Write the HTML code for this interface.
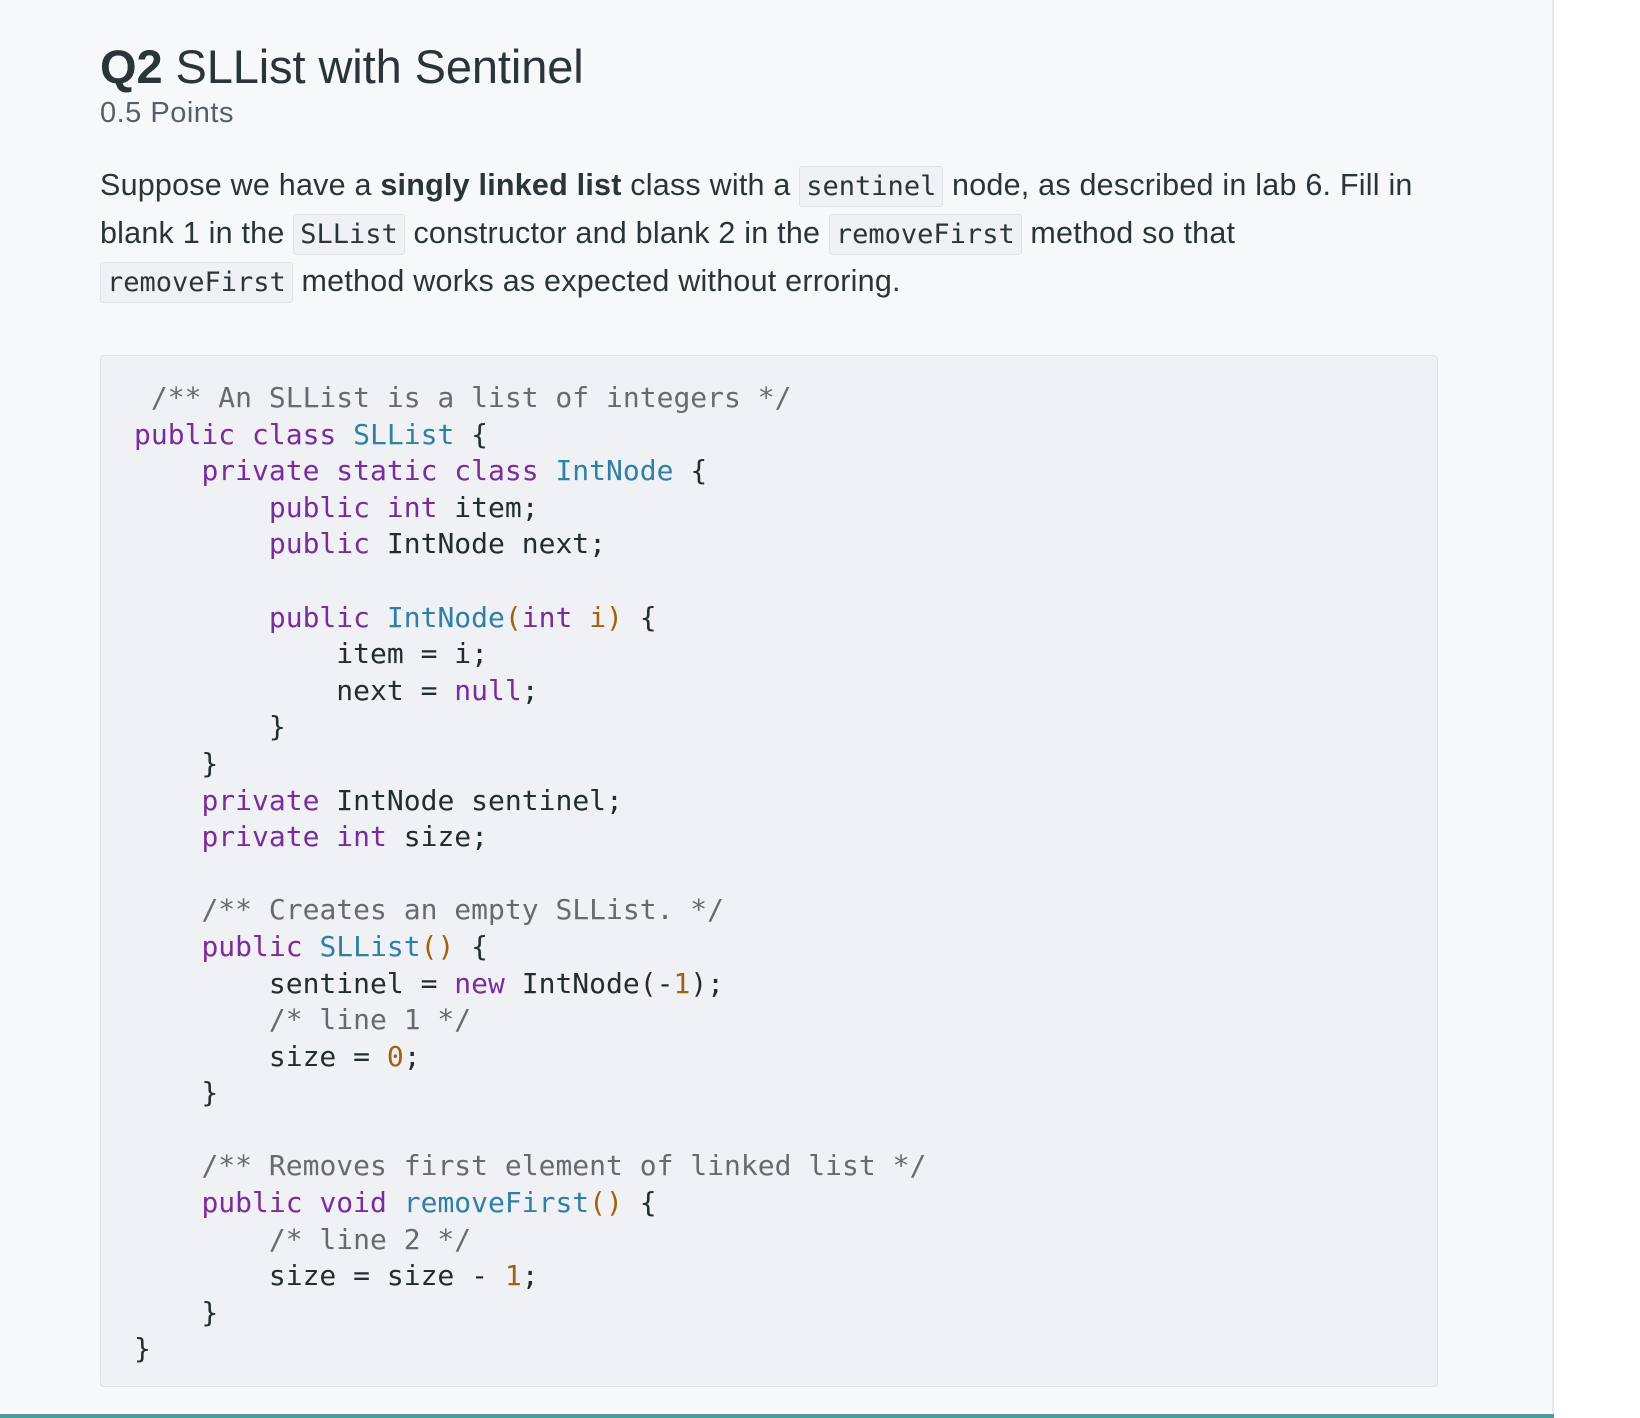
<!DOCTYPE html>
<html><head><meta charset="utf-8"><style>
html,body{margin:0;padding:0;}
body{width:1640px;height:1418px;background:#f7f8fa;position:relative;overflow:hidden;font-family:"Liberation Sans",Arial,sans-serif;color:#2a3539;}
.rb{position:absolute;left:1552px;top:0;width:2px;height:1418px;background:#e6e8ec;}
.rw{position:absolute;left:1554px;top:0;width:86px;height:1418px;background:#fff;}
.bt{position:absolute;left:0;top:1414px;width:1554px;height:4px;background:#4b9c96;}
h1{position:absolute;left:100px;top:39px;margin:0;font-size:47px;font-weight:normal;line-height:56px;letter-spacing:-0.1px;}
h1 b{font-weight:bold;}
.pts{position:absolute;left:100px;top:96px;font-size:29px;color:#55606a;line-height:34px;letter-spacing:0.5px;}
.ln{position:absolute;left:100px;font-size:30.5px;line-height:40px;white-space:nowrap;letter-spacing:0.22px;}
.ln b{font-weight:bold;}
code{font-family:"DejaVu Sans Mono",monospace;font-size:27px;background:#eff1f4;border:1px solid #dfe2e6;border-radius:3px;padding:4px 6px;letter-spacing:0;}
.box{position:absolute;left:100px;top:355px;width:1338px;height:1032px;background:#f0f1f5;border:1px solid #dfe1e6;border-radius:4px;box-sizing:border-box;}
pre{position:absolute;left:134px;top:380px;margin:0;font-family:"DejaVu Sans Mono",monospace;font-size:28px;line-height:36.6px;color:#222d30;}
.k{color:#7b2c9c}.t{color:#2f7fa6}.c{color:#666b6e}.n{color:#a0620e}
</style></head><body>
<div class="rw"></div><div class="rb"></div>
<h1><b>Q2</b> SLList with Sentinel</h1>
<div class="pts">0.5 Points</div>
<div class="ln" style="top:165px">Suppose we have a <b>singly linked list</b> class with a <code>sentinel</code> node, as described in lab 6. Fill in</div>
<div class="ln" style="top:213px">blank 1 in the <code>SLList</code> constructor and blank 2 in the <code>removeFirst</code> method so that</div>
<div class="ln" style="top:261px"><code>removeFirst</code> method works as expected without erroring.</div>
<div class="box"></div>
<pre><span class="c"> /** An SLList is a list of integers */</span>
<span class="k">public class</span> <span class="t">SLList</span> {
    <span class="k">private static class</span> <span class="t">IntNode</span> {
        <span class="k">public int</span> item;
        <span class="k">public</span> IntNode next;

        <span class="k">public</span> <span class="t">IntNode</span><span class="n">(</span><span class="k">int</span> <span class="n">i)</span> {
            item = i;
            next = <span class="k">null</span>;
        }
    }
    <span class="k">private</span> IntNode sentinel;
    <span class="k">private int</span> size;

    <span class="c">/** Creates an empty SLList. */</span>
    <span class="k">public</span> <span class="t">SLList</span><span class="n">()</span> {
        sentinel = <span class="k">new</span> IntNode(-<span class="n">1</span>);
        <span class="c">/* line 1 */</span>
        size = <span class="n">0</span>;
    }

    <span class="c">/** Removes first element of linked list */</span>
    <span class="k">public void</span> <span class="t">removeFirst</span><span class="n">()</span> {
        <span class="c">/* line 2 */</span>
        size = size - <span class="n">1</span>;
    }
}</pre>
<div class="bt"></div>
</body></html>
